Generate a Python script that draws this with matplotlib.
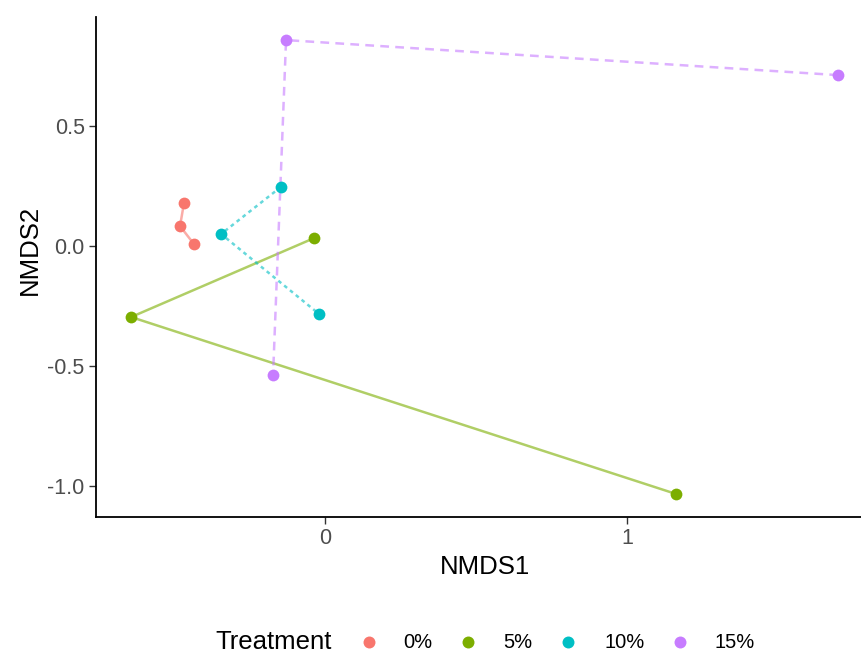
import matplotlib
matplotlib.use("Agg")
import matplotlib.pyplot as plt
from matplotlib.lines import Line2D

plt.rcParams['font.family'] = ['Liberation Sans', 'DejaVu Sans']

treatments = ["0%", "5%", "10%", "15%"]
colors = ["#F8766D", "#7CAE00", "#00BFC4", "#C77CFF"]
nmds1 = {
    "0%": [-0.467, -0.480, -0.434],
    "5%": [-0.036, -0.642, 1.162],
    "10%": [-0.146, -0.344, -0.020],
    "15%": [1.699, -0.129, -0.172],
}
nmds2 = {
    "0%": [0.179, 0.083, 0.008],
    "5%": [0.033, -0.296, -1.033],
    "10%": [0.246, 0.050, -0.283],
    "15%": [0.712, 0.858, -0.538],
}
linestyles = ["-", "-", (0, (1.5, 1.5)), (0, (3.5, 2.5))]
x_ticks = [0, 1]
y_ticks = [-1.0, -0.5, 0.0, 0.5]

W, H = 862, 653
fig = plt.figure(figsize=(W / 100, H / 100), dpi=100)

allx = [v for t in treatments for v in nmds1[t]]
ally = [v for t in treatments for v in nmds2[t]]
xr = max(allx) - min(allx)
yr = max(ally) - min(ally)
xlim = (min(allx) - 0.05 * xr, max(allx) + 0.05 * xr)
ylim = (min(ally) - 0.05 * yr, max(ally) + 0.05 * yr)

# pixel mapping: x=0 -> 325px, 302 px/unit ; y=0 -> 246px, 240 px/unit
left_px = 325 + xlim[0] * 302
right_px = 325 + xlim[1] * 302
top_px = 246 - ylim[1] * 240
bot_px = 246 - ylim[0] * 240
aw = right_px - left_px
ah = bot_px - top_px
ax = fig.add_axes([left_px / W, 1 - bot_px / H, aw / W, ah / H])
ax.set_xlim(*xlim)
ax.set_ylim(*ylim)

for t, c, ls in zip(treatments, colors, linestyles):
    ax.plot(nmds1[t], nmds2[t], color=c, lw=1.8, ls=ls, alpha=0.6, zorder=2)
    ax.scatter(nmds1[t], nmds2[t], s=72, color=c, zorder=3, linewidths=0)

ax.set_xticks(x_ticks)
ax.set_xticklabels([str(v) for v in x_ticks])
ax.set_yticks(y_ticks)
ax.set_yticklabels([f"{v:.1f}" for v in y_ticks])
ax.tick_params(axis='both', labelsize=15.5, labelcolor="#4D4D4D", color="#333333",
               length=5, width=1.0, pad=3)
for s in ["top", "right"]:
    ax.spines[s].set_visible(False)
for s in ["left", "bottom"]:
    ax.spines[s].set_linewidth(1.3)
    ax.spines[s].set_color("black")
ax.set_xlabel("NMDS1", fontsize=18.5)
ax.set_ylabel("NMDS2", fontsize=18.5)
ax.xaxis.set_label_coords((485 - left_px) / aw, -(567 - bot_px) / ah)
ax.xaxis.label.set_va("center")
ax.yaxis.set_label_coords((30 - left_px) / aw, (bot_px - 250) / ah)
ax.yaxis.label.set_va("center")

# legend (drawn manually in figure pixels)
leg_y = 1 - 642 / H
fig.text(215 / W, leg_y, "Treatment", fontsize=18.5, va="center", ha="left")
dot_x = [369, 468, 568, 680]
lab_x = [403, 503, 605, 715]
for c, t, dx, lx in zip(colors, treatments, dot_x, lab_x):
    fig.add_artist(Line2D([dx / W], [leg_y], marker="o", ls="none", color=c,
                          markersize=8.6, markeredgewidth=0, transform=fig.transFigure))
    fig.text(lx / W, leg_y, t, fontsize=14.5, va="center", ha="left")

fig.savefig("out.png", dpi=100)
